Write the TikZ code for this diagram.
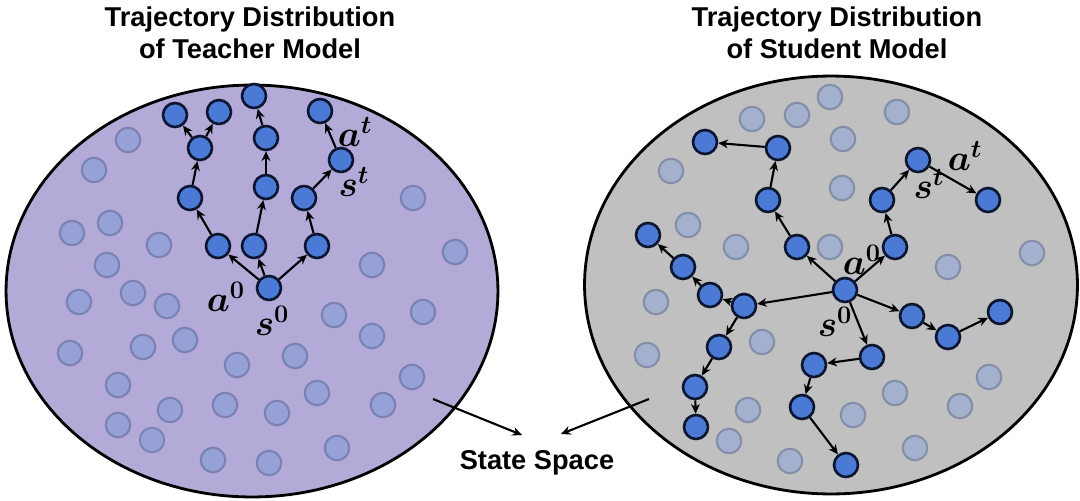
\documentclass[tikz,border=0pt]{standalone}
\usepackage{fontspec}
\setmainfont{Liberation Sans}
\usepackage{bm}
\usetikzlibrary{arrows.meta}

\definecolor{teacherbg}{RGB}{180,170,216}
\definecolor{studentbg}{RGB}{192,192,192}
\definecolor{statefill}{RGB}{74,122,214}
\definecolor{stateline}{RGB}{12,22,48}
\definecolor{ghostfillT}{RGB}{150,161,216}
\definecolor{ghostlineT}{RGB}{122,130,180}
\definecolor{ghostfillS}{RGB}{164,177,206}
\definecolor{ghostlineS}{RGB}{133,142,168}

\begin{document}
\begin{tikzpicture}
    [x=0.02cm, y=-0.02cm,
     visited/.style={circle, draw=stateline, fill=statefill, line width=1.5pt,
       minimum size=0.48cm, inner sep=0pt},
     ghostT/.style={circle, draw=ghostlineT, fill=ghostfillT, line width=1.2pt,
       minimum size=0.49cm, inner sep=0pt},
     ghostS/.style={circle, draw=ghostlineS, fill=ghostfillS, line width=1.2pt,
       minimum size=0.49cm, inner sep=0pt},
     move/.style={-{Stealth[length=5.5pt, width=5pt]}, line width=1.2pt},
     symb/.style={font=\fontsize{20}{22}\selectfont, inner sep=0pt},
     heading/.style={font=\bfseries\fontsize{15.5}{18.5}\selectfont, align=center}]
    \useasboundingbox (0, 0) rectangle (1080, 501);

    % titles
    \node[heading] (ttitle) at (250, 33) {Trajectory Distribution\\of Teacher Model};
    \node[heading] (stitle) at (837, 33) {Trajectory Distribution\\of Student Model};

    % state spaces
    \draw[fill=teacherbg, line width=1.6pt] (252, 291) ellipse [x radius=4.92cm, y radius=4.12cm];
    \draw[fill=studentbg, line width=1.6pt] (831, 285) ellipse [x radius=4.93cm, y radius=4.18cm];

    % unvisited states
    \foreach [count=\i] \p in {(128,140), (94,170), (413,198), (110,223), (72,233),
      (159,245), (455,252), (107,265), (372,265), (133,293), (79,302), (167,306),
      (423,312), (334,315), (372,336), (185,340), (143,347), (70,353), (295,356),
      (237,365), (412,377), (118,385), (317,393), (225,405), (383,405), (170,410),
      (277,413), (118,425), (152,440), (337,448), (213,460), (269,463)}
      \node[ghostT] (tg\i) at \p {};
    \foreach [count=\i] \p in {(752,119), (797,115), (830,97), (897,112), (843,139),
      (842,188), (671,171), (688,225), (736,247), (830,247), (948,267), (1032,253),
      (656,302), (647,355), (762,342), (989,377), (895,393), (960,406), (748,410),
      (853,415), (729,441), (915,448), (790,461)}
      \node[ghostS] (sg\i) at \p {};

    % teacher trajectories
    \node[visited] (T0) at (269, 288) {};
    \node[visited] (TA1) at (218, 246) {};
    \node[visited] (TA2) at (190, 198) {};
    \node[visited] (TA3) at (200, 148) {};
    \node[visited] (TA4) at (175, 115) {};
    \node[visited] (TA5) at (219, 112) {};
    \node[visited] (TB1) at (254, 246) {};
    \node[visited] (TB2) at (266, 187) {};
    \node[visited] (TB3) at (266, 138) {};
    \node[visited] (TB4) at (254, 96) {};
    \node[visited] (TC1) at (317, 246) {};
    \node[visited] (TC2) at (304, 198) {};
    \node[visited] (TC3) at (341, 160) {};
    \node[visited] (TC4) at (320, 111) {};
    \foreach \a/\b in {T0/TA1, TA1/TA2, TA2/TA3, TA3/TA4, TA3/TA5,
      T0/TB1, TB1/TB2, TB2/TB3, TB3/TB4,
      T0/TC1, TC1/TC2, TC2/TC3, TC3/TC4}
      \draw[move] (\a) -- (\b);
    \node[symb] (ta0) at (226, 297) {$\bm{a^0}$};
    \node[symb] (ts0) at (272, 321) {$\bm{s^0}$};
    \node[symb] (tat) at (355, 132) {$\bm{a^t}$};
    \node[symb] (tst) at (354, 182) {$\bm{s^t}$};

    % student trajectories
    \node[visited] (S0) at (845, 290) {};
    \node[visited] (SA1) at (895, 247) {};
    \node[visited] (SA2) at (882, 200) {};
    \node[visited] (SA3) at (918, 160) {};
    \node[visited] (SA4) at (988, 200) {};
    \node[visited] (SB1) at (797, 247) {};
    \node[visited] (SB2) at (768, 200) {};
    \node[visited] (SB3) at (778, 148) {};
    \node[visited] (SB4) at (705, 142) {};
    \node[visited] (SC1) at (744, 306) {};
    \node[visited] (SC2) at (710, 295) {};
    \node[visited] (SC3) at (683, 267) {};
    \node[visited] (SC4) at (648, 235) {};
    \node[visited] (SD1) at (719, 347) {};
    \node[visited] (SD2) at (695, 387) {};
    \node[visited] (SD3) at (696, 427) {};
    \node[visited] (SE1) at (912, 316) {};
    \node[visited] (SE2) at (948, 337) {};
    \node[visited] (SE3) at (1000, 312) {};
    \node[visited] (SF1) at (872, 357) {};
    \node[visited] (SF2) at (814, 365) {};
    \node[visited] (SF3) at (802, 407) {};
    \node[visited] (SF4) at (846, 465) {};
    \foreach \a/\b in {S0/SA1, SA1/SA2, SA2/SA3, SA3/SA4,
      S0/SB1, SB1/SB2, SB2/SB3, SB3/SB4,
      S0/SC1, SC1/SC2, SC2/SC3, SC3/SC4,
      SC1/SD1, SD1/SD2, SD2/SD3,
      S0/SE1, SE1/SE2, SE2/SE3,
      S0/SF1, SF1/SF2, SF2/SF3, SF3/SF4}
      \draw[move] (\a) -- (\b);
    \node[symb] (sa0) at (862, 260) {$\bm{a^0}$};
    \node[symb] (ss0) at (835, 322) {$\bm{s^0}$};
    \node[symb] (sat) at (965, 156) {$\bm{a^t}$};
    \node[symb] (sst) at (929, 184) {$\bm{s^t}$};

    % state space label
    \node[font=\bfseries\fontsize{15.5}{18}\selectfont] (space) at (537, 463) {State Space};
    \coordinate (fromT) at (433, 399);
    \coordinate (fromS) at (649, 399);
    \coordinate (toT) at (522, 435);
    \coordinate (toS) at (561, 434);
    \draw[move] (fromT) -- (toT);
    \draw[move] (fromS) -- (toS);
\end{tikzpicture}
\end{document}
